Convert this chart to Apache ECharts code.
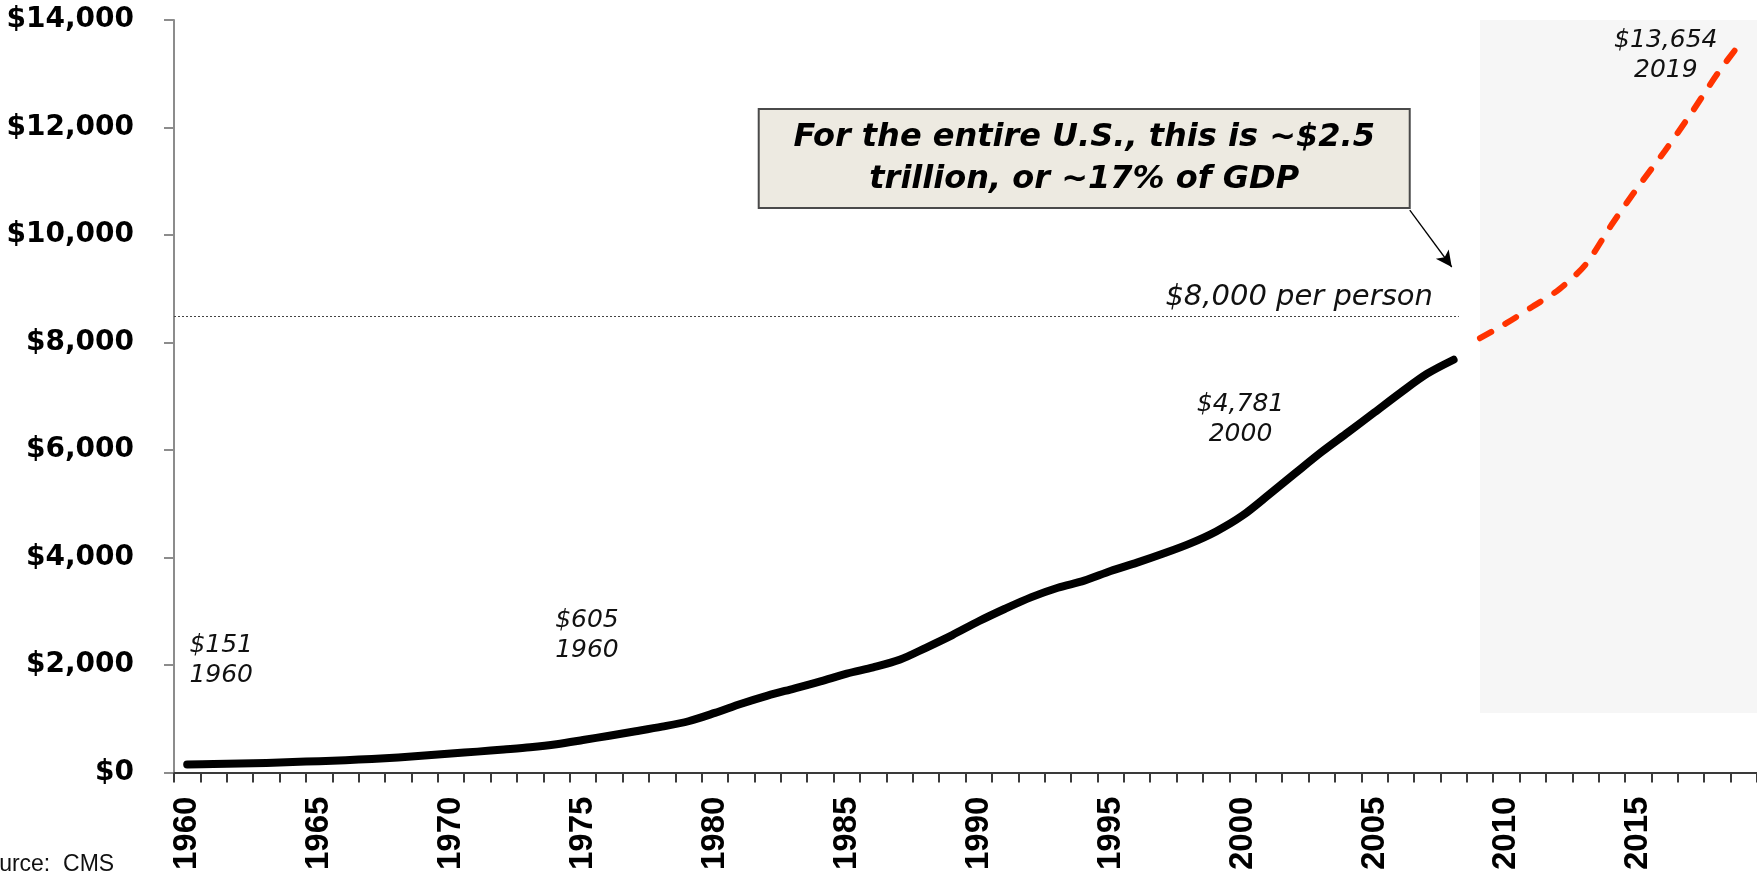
<!DOCTYPE html>
<html>
<head>
<meta charset="utf-8">
<title>Health care spending per person</title>
<script src="https://cdn.jsdelivr.net/npm/echarts@6/dist/echarts.min.js"></script>
<style>
  html, body { margin: 0; padding: 0; background: #ffffff; }
  #chart { width: 1757px; height: 873px; }
</style>
</head>
<body>
<div id="chart"></div>
<script>
// Calendar years on the category axis
const years = [
  '1960','1961','1962','1963','1964','1965','1966','1967','1968','1969',
  '1970','1971','1972','1973','1974','1975','1976','1977','1978','1979',
  '1980','1981','1982','1983','1984','1985','1986','1987','1988','1989',
  '1990','1991','1992','1993','1994','1995','1996','1997','1998','1999',
  '2000','2001','2002','2003','2004','2005','2006','2007','2008','2009',
  '2010','2011','2012','2013','2014','2015','2016','2017','2018','2019'
];

// Actual spending per person, 1960-2008 (US$)
const historical = [
  151, 158, 168, 180, 198, 212, 230, 254, 282, 316,
  356, 390, 430, 472, 528, 605, 686, 768, 854, 955,
  1110, 1280, 1432, 1563, 1696, 1842, 1957, 2097, 2322, 2558,
  2815, 3048, 3264, 3439, 3570, 3750, 3905, 4074, 4259, 4486,
  4781, 5170, 5570, 5965, 6330, 6700, 7071, 7420, 7680
];

// Projected spending per person, 2009-2019 (US$)
const projected = [8080, 8360, 8670, 8990, 9450, 10200, 10900, 11560, 12260, 13000, 13654];

// Value axis ticks
const yMin = 0;
const yMax = 14000;
const yStep = 2000;

// Point notes: year of the point, and the text written next to it
const noteYears = ['1960', '1975', '2000', '2019'];
const noteTexts = ['$151\n1960', '$605\n1960', '$4,781\n2000', '$13,654\n2019'];

// Reference level and its caption
const perPersonLevel = 8480;
const perPersonCaption = '$8,000 per person';
const calloutText = 'For the entire U.S., this is ~$2.5\ntrillion, or ~17% of GDP';
const sourceText = 'Source:  CMS';

// ---- derived series data ----
const projYears = years.slice(historical.length);
const projData = projYears.map((y, i) => [y, projected[i]]);

function valueOf(year) {
  const i = years.indexOf(year);
  return i < historical.length ? historical[i] : projected[i - historical.length];
}

// label placement around each noted point (pixel offsets)
const noteOffsets = { '1960': [34, -104], '1975': [4, -105], '2000': [-2, -96], '2019': [-78, 17] };

const noteFont = {
  fontFamily: '"DejaVu Sans", sans-serif',
  fontStyle: 'italic',
  fontSize: 25,
  lineHeight: 30,
  color: '#111111',
  align: 'center',
  verticalAlign: 'middle'
};

function notePoint(year) {
  return {
    coord: [year, valueOf(year)],
    symbol: 'circle',
    symbolSize: 1,
    itemStyle: { color: 'rgba(0,0,0,0)' },
    label: Object.assign({
      show: true,
      position: 'inside',
      offset: noteOffsets[year],
      formatter: noteTexts[noteYears.indexOf(year)]
    }, noteFont)
  };
}

const chart = echarts.init(document.getElementById('chart'), null, { renderer: 'canvas' });

const option = {
  animation: false,
  backgroundColor: '#ffffff',
  grid: { left: 174, right: -4, top: 20, bottom: 100, containLabel: false },
  xAxis: [
    {
      type: 'category',
      data: years,
      boundaryGap: true,
      axisLine: { show: true, lineStyle: { color: '#3a3a3a', width: 2 } },
      axisTick: { show: true, interval: 0, length: 10, lineStyle: { color: '#3a3a3a', width: 2 } },
      axisLabel: {
        interval: 4,
        rotate: 90,
        margin: 24,
        fontFamily: '"Liberation Sans", Arial, sans-serif',
        fontWeight: 'bold',
        fontSize: 33,
        color: '#000000'
      },
      splitLine: { show: false }
    },
    {
      // helper scale for annotations (one unit per year)
      type: 'value',
      min: 1959.5,
      max: 2019.5,
      show: false,
      splitLine: { show: false }
    }
  ],
  yAxis: {
    type: 'value',
    min: yMin,
    max: yMax,
    interval: yStep,
    axisLine: { show: true, lineStyle: { color: '#8c8c8c', width: 2 } },
    axisTick: { show: true, length: 10, lineStyle: { color: '#8c8c8c', width: 2 } },
    splitLine: { show: false },
    axisLabel: {
      margin: 40,
      fontFamily: '"DejaVu Sans", sans-serif',
      fontWeight: 'bold',
      fontSize: 28,
      color: '#000000',
      formatter: v => '$' + v.toLocaleString('en-US')
    }
  },
  series: [
    {
      // projection backdrop, reference level and callout
      name: 'annotations',
      type: 'line',
      xAxisIndex: 1,
      data: [],
      z: 1,
      silent: true,
      markArea: {
        silent: true,
        itemStyle: { color: '#f6f6f6' },
        data: [[{ coord: [2009.0, 14056] }, { coord: [2019.5, 1107] }]]
      },
      markLine: {
        silent: true,
        symbol: ['none', 'none'],
        data: [
          [
            { coord: [1959.5, perPersonLevel], symbol: 'none' },
            { coord: [2008.2, perPersonLevel], symbol: 'none' }
          ],
          [
            { coord: [2006.34, 10465], symbol: 'none', lineStyle: { type: 'solid', width: 1.3, color: '#000000' }, label: { show: false } },
            { coord: [2007.93, 9405], symbol: 'arrow', symbolSize: [12, 16] }
          ]
        ],
        lineStyle: { type: [2, 2], width: 1.2, color: '#444444' },
        label: {
          show: true,
          position: 'insideEndTop',
          distance: [26, 5],
          formatter: perPersonCaption,
          fontFamily: '"DejaVu Sans", sans-serif',
          fontStyle: 'italic',
          fontSize: 29,
          color: '#111111'
        }
      },
      markPoint: {
        silent: true,
        data: [
          {
            coord: [1994.0, 11423],
            symbol: 'circle',
            symbolSize: 1,
            itemStyle: { color: 'rgba(0,0,0,0)' },
            label: {
              show: true,
              position: 'inside',
              formatter: calloutText,
              width: 649,
              height: 97,
              padding: 0,
              backgroundColor: '#edeae1',
              borderColor: '#4a4a4a',
              borderWidth: 2,
              fontFamily: '"DejaVu Sans", sans-serif',
              fontWeight: 'bold',
              fontStyle: 'italic',
              fontSize: 32,
              lineHeight: 42,
              color: '#000000',
              align: 'center',
              verticalAlign: 'middle'
            }
          }
        ]
      }
    },
    {
      name: 'Actual',
      type: 'line',
      xAxisIndex: 0,
      data: historical,
      smooth: 0.3,
      symbol: 'none',
      z: 3,
      lineStyle: { color: '#000000', width: 8, cap: 'round', join: 'round' },
      markPoint: {
        silent: true,
        data: ['1960', '1975', '2000'].map(notePoint)
      }
    },
    {
      name: 'Projected',
      type: 'line',
      xAxisIndex: 0,
      data: projData,
      smooth: 0.3,
      symbol: 'none',
      z: 3,
      lineStyle: { color: '#ff3300', width: 6, type: [13, 16], cap: 'round' },
      markPoint: {
        silent: true,
        data: ['2019'].map(notePoint)
      }
    }
  ],
  graphic: [
    {
      type: 'text',
      x: -29,
      y: 853,
      silent: true,
      style: {
        text: sourceText,
        font: '23px "Liberation Sans", Arial, sans-serif',
        fill: '#111111',
        verticalAlign: 'top'
      }
    }
  ]
};

chart.setOption(option);
</script>
</body>
</html>
